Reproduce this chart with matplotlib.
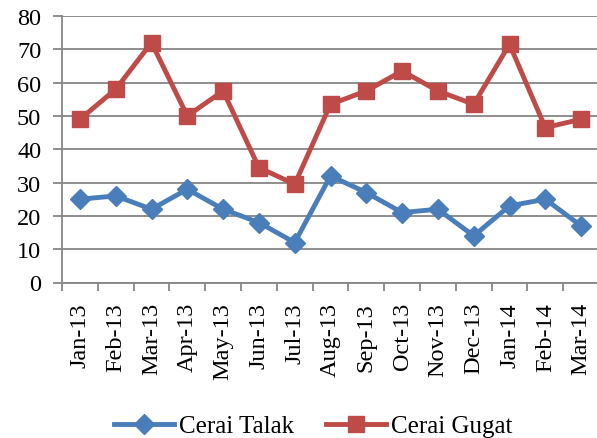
import matplotlib.pyplot as plt

months = ['Jan-13', 'Feb-13', 'Mar-13', 'Apr-13', 'May-13', 'Jun-13', 'Jul-13',
          'Aug-13', 'Sep-13', 'Oct-13', 'Nov-13', 'Dec-13', 'Jan-14', 'Feb-14', 'Mar-14']
cerai_talak = [25, 26, 22, 28, 22, 18, 12, 32, 27, 21, 22, 14, 23, 25, 17]
cerai_gugat = [49, 58, 72, 50, 57.5, 34.5, 29.5, 53.5, 57.5, 63.5, 57.5, 53.5, 71.5, 46.5, 49]

plt.rcParams['font.family'] = ['Liberation Serif', 'DejaVu Serif']
plt.rcParams['font.size'] = 17.5

grid_col = '#868686'

fig = plt.figure(figsize=(5.97, 4.39), dpi=100)
ax = fig.add_axes([62 / 597, 1 - 283.5 / 439, 537 / 597, 266.5 / 439])

x = list(range(len(months)))
ax.plot(x, cerai_talak, color='#4A7EBB', lw=3.5, marker='D', ms=10,
        label='Cerai Talak', solid_joinstyle='round')
ax.plot(x, cerai_gugat, color='#BE4B48', lw=3.5, marker='s', ms=12,
        label='Cerai Gugat', solid_joinstyle='round')

ax.set_xlim(-0.5, len(months) - 0.5)
ax.set_ylim(0, 80)
ax.set_yticks(range(0, 81, 10))
ax.set_xticks([i - 0.5 for i in range(len(months) + 1)], minor=False)
ax.set_xticklabels([])
ax.set_xticks(x, minor=True)
ax.set_xticklabels(months, minor=True, rotation=90)
ax.tick_params(axis='x', which='minor', length=0, pad=14)
ax.tick_params(axis='x', which='major', length=6, width=1.3, color=grid_col)
ax.tick_params(axis='y', length=6.5, width=1.3, color=grid_col, pad=8.5)

ax.grid(axis='y', color=grid_col, lw=1.3)
ax.set_axisbelow(True)
for side in ['top', 'right']:
    ax.spines[side].set_visible(False)
for side in ['left', 'bottom']:
    ax.spines[side].set_color(grid_col)
    ax.spines[side].set_linewidth(1.3)

fig.legend(loc='center', bbox_to_anchor=(0.525, 1 - 427 / 439), ncol=2,
           frameon=False, handlelength=2.4, columnspacing=1.3, handletextpad=0.2,
           prop={'family': 'Liberation Serif', 'size': 18})

fig.savefig('out.png', dpi=100)
